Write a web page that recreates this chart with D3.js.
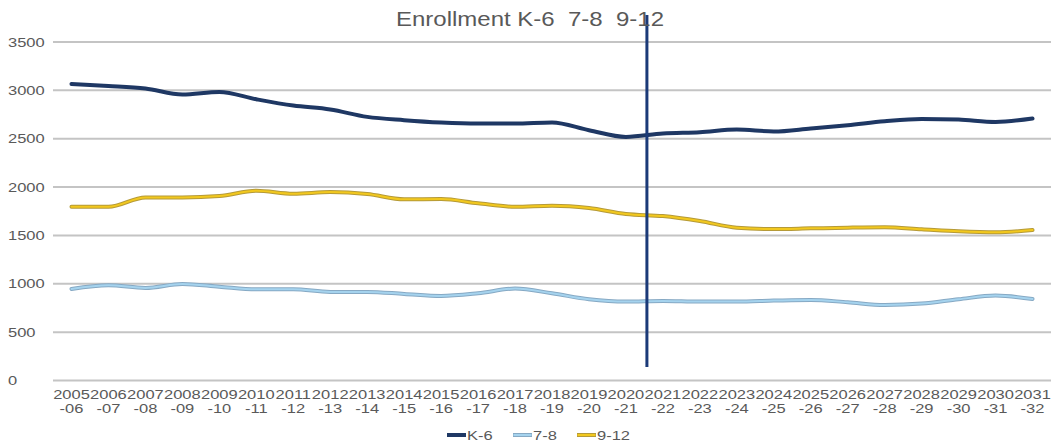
<!DOCTYPE html>
<html>
<head>
<meta charset="utf-8">
<script src="https://cdn.jsdelivr.net/npm/d3@7"></script>
<style>
  html, body { margin: 0; padding: 0; background: #fff; }
  svg { display: block; font-family: "Liberation Sans", Arial, sans-serif; }
  text { white-space: pre; }
</style>
</head>
<body>
<svg id="chart" width="1057" height="444"></svg>
<script>
// School years shown on the x axis
const years = ["2005-06","2006-07","2007-08","2008-09","2009-10","2010-11","2011-12","2012-13",
  "2013-14","2014-15","2015-16","2016-17","2017-18","2018-19","2019-20","2020-21","2021-22",
  "2022-23","2023-24","2024-25","2025-26","2026-27","2027-28","2028-29","2029-30","2030-31","2031-32"];

// Enrollment by grade band
const k6 = [3066,3046,3019,2957,2984,2908,2843,2802,2726,2692,2668,2657,2657,2668,2588,2519,
  2554,2568,2595,2575,2606,2640,2681,2705,2698,2674,2709];
const g78 = [947,985,957,998,970,943,943,916,916,895,874,902,950,902,840,816,
  823,816,816,826,833,809,781,795,840,878,843];
const g912 = [1796,1796,1893,1893,1907,1962,1931,1948,1928,1873,1876,1832,1796,1807,1783,1721,
  1700,1649,1580,1566,1573,1580,1584,1563,1542,1532,1556];

const yTicks = [0,500,1000,1500,2000,2500,3000,3500];
const seriesNames = ["K-6","7-8","9-12"];
const projectionStart = "2021-22";
const titleText = "Enrollment K-6  7-8  9-12";

const svg = d3.select("#chart");
const plot = { left: 53, right: 1051, top: 42, bottom: 380.5 };
const textColor = "#595959";
const sx = 1.27; // horizontal stretch applied to all text

const x = d3.scaleBand().domain(years).range([plot.left, plot.right]);
const y = d3.scaleLinear().domain([0, 3500]).range([plot.bottom, plot.top]);
const cx = d => x(d) + x.bandwidth() / 2;

function stretchedText(g, px, py, txt, opts = {}) {
  return g.append("text")
    .attr("transform", `translate(${px},${py}) scale(${opts.sx || sx},1)`)
    .attr("text-anchor", opts.anchor || "start")
    .attr("font-size", opts.size || 13)
    .attr("fill", opts.fill || textColor)
    .text(txt);
}

// Horizontal gridlines
const grid = svg.append("g");
grid.selectAll("line").data(yTicks).join("line")
  .attr("x1", plot.left).attr("x2", plot.right)
  .attr("y1", d => y(d)).attr("y2", d => y(d))
  .attr("stroke", "#c4c4c4").attr("stroke-width", 2);

// Y tick labels (left aligned)
const yLab = svg.append("g");
yTicks.forEach(t => stretchedText(yLab, 8, y(t) + 4.5, String(t)));

// X tick labels, two lines each
const xLab = svg.append("g");
years.forEach(yr => {
  const [a, b] = yr.split("-");
  stretchedText(xLab, cx(yr), 399, a, { anchor: "middle" });
  stretchedText(xLab, cx(yr), 413, "-" + b, { anchor: "middle" });
});

const line = d3.line().x((d, i) => cx(years[i])).y(d => y(d)).curve(d3.curveMonotoneX);

const styles = [
  { data: k6,   outer: "#1f3864", inner: "#1f3864", w: 3 },
  { data: g78,  outer: "#86a9c4", inner: "#a5d3ee", w: 3 },
  { data: g912, outer: "#b59a38", inner: "#f2c81e", w: 3 }
];

const lines = svg.append("g").attr("fill", "none").attr("stroke-linejoin", "round").attr("stroke-linecap", "round");
// draw 9-12, 7-8 first then K-6
[styles[2], styles[1], styles[0]].forEach(s => {
  lines.append("path").attr("d", line(s.data)).attr("stroke", s.outer).attr("stroke-width", s.w + 1);
  lines.append("path").attr("d", line(s.data)).attr("stroke", s.inner).attr("stroke-width", s.w - 1);
});

// Marker separating actual from projected years
const mx = x(projectionStart) + 2.5;
svg.append("line")
  .attr("x1", mx).attr("x2", mx).attr("y1", 15).attr("y2", 367)
  .attr("stroke", "#1b3a78").attr("stroke-width", 3);

// Title
stretchedText(svg, 530, 26, titleText, { anchor: "middle", size: 20, sx: 1.2 });

// Legend
const legend = svg.append("g");
const legendX = [447, 513, 577];
seriesNames.forEach((name, i) => {
  const s = styles[i];
  const lx = legendX[i];
  legend.append("line").attr("x1", lx).attr("x2", lx + 19).attr("y1", 435).attr("y2", 435)
    .attr("stroke", s.outer).attr("stroke-width", 4);
  legend.append("line").attr("x1", lx + 0.5).attr("x2", lx + 18.5).attr("y1", 435).attr("y2", 435)
    .attr("stroke", s.inner).attr("stroke-width", 2);
  stretchedText(legend, lx + 20, 440, name);
});
</script>
</body>
</html>
